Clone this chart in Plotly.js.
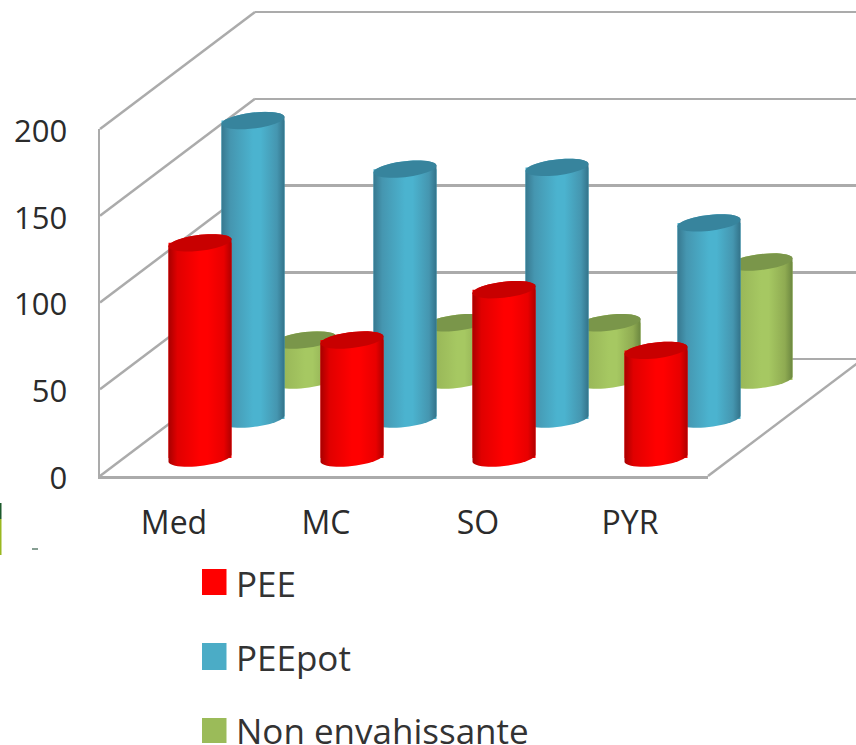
<!DOCTYPE html>
<html>
<head>
<meta charset="utf-8">
<script src="https://cdn.plot.ly/plotly-3.0.1.min.js"></script>
<style>html,body{margin:0;padding:0;background:#fff}#chart{width:856px;height:745px}</style>
</head>
<body>
<div id="chart"></div>
<script>
// Clustered cylinders in an oblique 3D box: one Plotly subplot per depth row.
const categories = ['Med', 'MC', 'SO', 'PYR'];
const pee = [124, 68, 97, 62];
const peePot = [172, 144, 145, 113];
const nonEnvahissante = [23, 33, 33, 68];
const yTicks = [0, 50, 100, 150, 200];

const W = 856, H = 745;
const FONT = '"Open Sans", sans-serif';
const TEXT = '#2b2b2b', GRID = '#ababab';

// Front plane of the box, in pixels, and the depth vector of the whole box.
const front = {left: 100, right: 708, base: 476, top: 129};
const depth = {dx: 155, dy: 117};
const catPx = (front.right - front.left) / categories.length;
const unitPx = (front.base - front.top) / 200;

// Value range beyond 0..200, so base ellipses and the outer gridlines stay inside their subplots.
const PAD = 6;
const paddedRange = [-PAD, 200 + PAD];

// Cylinder proportions.
const RADIUS = 31.5, CAP_B = 8, CAP_TILT = 3.5;

const fx = p => p / W;
const fy = p => (H - p) / H;

// Vertical domain for a plane whose zero line sits at pixel row `base`.
const paddedDomain = base => [fy(base + PAD * unitPx), fy(base - (200 + PAD) * unitPx)];

function capPoint(cx, cy, angle) {
  // Pixel offsets on the tilted ellipse, returned as data units.
  const dxPx = RADIUS * Math.cos(angle);
  const dyPx = CAP_B * Math.sin(angle) + CAP_TILT * Math.cos(angle);
  return [cx + dxPx / catPx, cy + dyPx / unitPx];
}

function arc(cx, cy, from, to) {
  const pts = [];
  for (let i = 0; i <= 24; i++) pts.push(capPoint(cx, cy, from + (to - from) * i / 24));
  return pts;
}

function rowTraces(name, values, idx, colors) {
  const ax = {xaxis: 'x' + idx, yaxis: 'y' + idx};
  const traces = [Object.assign({
    type: 'bar', name, x: categories.map((_, i) => i), y: values,
    width: 2 * RADIUS / catPx, marker: {color: colors.mid, line: {width: 0}},
    hoverinfo: 'skip'
  }, ax)];
  values.forEach((v, i) => {
    // Silhouette: over the upper ellipse, down the right side, under the base ellipse.
    const outline = arc(i, v, Math.PI, 0).concat(arc(i, 0, 0, -Math.PI));
    outline.push(outline[0]);
    traces.push(Object.assign({
      type: 'scatter', mode: 'none', fill: 'toself', showlegend: false,
      x: outline.map(p => p[0]), y: outline.map(p => p[1]),
      name: categories[i], hoverinfo: 'skip',
      fillgradient: {type: 'horizontal', colorscale: [
        [0, colors.edgeL], [0.14, colors.shoulderL], [0.5, colors.mid], [0.62, colors.mid],
        [0.88, colors.shoulderR], [1, colors.edgeR]]}
    }, ax));
    const cap = arc(i, v, 0, 2 * Math.PI);
    traces.push(Object.assign({
      type: 'scatter', mode: 'none', fill: 'toself', showlegend: false,
      x: cap.map(p => p[0]), y: cap.map(p => p[1]),
      fillcolor: colors.cap, hoverinfo: 'skip'
    }, ax));
  });
  return traces;
}

const RED = {edgeL: '#a80000', shoulderL: '#e00000', mid: '#ff0000', shoulderR: '#e80000', edgeR: '#b00000', cap: '#c80000'};
const BLUE = {edgeL: '#37788f', shoulderL: '#4596b0', mid: '#4bb3cf', shoulderR: '#4596b0', edgeR: '#33738a', cap: '#37849d'};
const GREEN = {edgeL: '#7f9a4b', shoulderL: '#98b658', mid: '#a6c862', shoulderR: '#8fab52', edgeR: '#6c8740', cap: '#7a964a'};

// Depth rows, drawn back to front.
const rows = [
  {name: 'Non envahissante', values: nonEnvahissante, idx: 3, colors: GREEN, dx: 129, dy: 96},
  {name: 'PEEpot', values: peePot, idx: 4, colors: BLUE, dx: 77, dy: 57},
  {name: 'PEE', values: pee, idx: 5, colors: RED, dx: 24, dy: 18}
];

const xRange = [-0.5, categories.length - 0.5];
const hiddenAxis = {visible: false, fixedrange: true};

const layout = {
  width: W, height: H, showlegend: false, barmode: 'overlay',
  margin: {l: 0, r: 0, t: 0, b: 0, pad: 0},
  paper_bgcolor: '#fff', plot_bgcolor: 'rgba(0,0,0,0)',
  font: {family: FONT, color: TEXT},
  // Front plane: carries the tick labels and the front edges of the box.
  xaxis: {
    domain: [fx(front.left), fx(front.right)], range: xRange, tickmode: 'array',
    tickvals: categories.map((_, i) => i), ticktext: categories,
    ticks: 'outside', ticklen: 17, tickcolor: 'rgba(0,0,0,0)', ticklabelshift: -2,
    tickfont: {size: 32, family: FONT, color: TEXT},
    showgrid: false, zeroline: false, showline: true, linecolor: GRID, linewidth: 2.5,
    anchor: 'y', fixedrange: true
  },
  yaxis: {
    domain: [fy(front.base), fy(front.top)], range: [0, 200], tickmode: 'array',
    tickvals: yTicks, ticks: 'outside', ticklen: 24, tickcolor: 'rgba(0,0,0,0)', ticklabelshift: 2,
    tickfont: {size: 31, family: FONT, color: TEXT},
    showgrid: false, zeroline: false, showline: true, linecolor: GRID, linewidth: 2.5,
    anchor: 'x', fixedrange: true
  },
  // Back wall with the horizontal gridlines, running off the right edge.
  xaxis2: Object.assign({}, hiddenAxis, {
    domain: [fx(front.left + depth.dx), 1], range: [0, 1], anchor: 'y2'
  }),
  yaxis2: {
    domain: paddedDomain(front.base - depth.dy), range: paddedRange,
    tickmode: 'array', tickvals: yTicks, showticklabels: false, ticks: '',
    showgrid: true, gridcolor: GRID, gridwidth: 2.5, zeroline: false, showline: false,
    anchor: 'x2', fixedrange: true
  },
  shapes: [],
  annotations: []
};

rows.forEach(r => {
  layout['xaxis' + r.idx] = Object.assign({}, hiddenAxis, {
    domain: [fx(front.left + r.dx), fx(front.right + r.dx)], range: xRange, anchor: 'y' + r.idx
  });
  layout['yaxis' + r.idx] = Object.assign({}, hiddenAxis, {
    domain: paddedDomain(front.base - r.dy), range: paddedRange, anchor: 'x' + r.idx
  });
});

function pxLine(x0, y0, x1, y1, color, width) {
  return {type: 'line', xref: 'paper', yref: 'paper', x0: fx(x0), y0: fy(y0), x1: fx(x1), y1: fy(y1),
          line: {color, width}, layer: 'below'};
}

// Side wall: one diagonal per tick.
yTicks.forEach(t => {
  const y = front.base - t * unitPx;
  layout.shapes.push(pxLine(front.left, y, front.left + depth.dx, y - depth.dy, GRID, 2.5));
});
// Right edge of the floor.
layout.shapes.push(pxLine(front.right, front.base, front.right + depth.dx, front.base - depth.dy, GRID, 2.5));

// Stray marks along the left margin.
layout.shapes.push(pxLine(0.5, 503, 0.5, 519, '#1c5a2c', 2));
layout.shapes.push(pxLine(0.5, 519, 0.5, 555, '#9ab820', 2));
layout.shapes.push(pxLine(32, 549, 38, 549, '#5f7f6f', 1.5));

// Legend: swatches and labels stacked below the box.
const legendItems = [
  {label: 'PEE', color: '#ff0000', top: 569, bottom: 595, mid: 583},
  {label: 'PEEpot', color: '#4bacc6', top: 643, bottom: 670, mid: 657},
  {label: 'Non envahissante', color: '#9bbb59', top: 718, bottom: 743, mid: 730}
];
legendItems.forEach(it => {
  layout.shapes.push({type: 'rect', xref: 'paper', yref: 'paper', x0: fx(202), x1: fx(226.5),
    y0: fy(it.bottom), y1: fy(it.top), fillcolor: it.color, line: {width: 0}});
  layout.annotations.push({xref: 'paper', yref: 'paper', x: fx(234), y: fy(it.mid), xanchor: 'left',
    yanchor: 'middle', showarrow: false, text: it.label,
    font: {size: 35, family: FONT, color: '#333333'}});
});

const data = [
  // Empty traces that bring the front plane and back wall subplots into being.
  {type: 'scatter', mode: 'none', x: [0], y: [0], xaxis: 'x', yaxis: 'y', hoverinfo: 'skip'},
  {type: 'scatter', mode: 'none', x: [0], y: [0], xaxis: 'x2', yaxis: 'y2', hoverinfo: 'skip'}
];
rows.forEach(r => data.push(...rowTraces(r.name, r.values, r.idx, r.colors)));

Plotly.newPlot('chart', data, layout, {displayModeBar: false, staticPlot: true});
</script>
</body>
</html>
